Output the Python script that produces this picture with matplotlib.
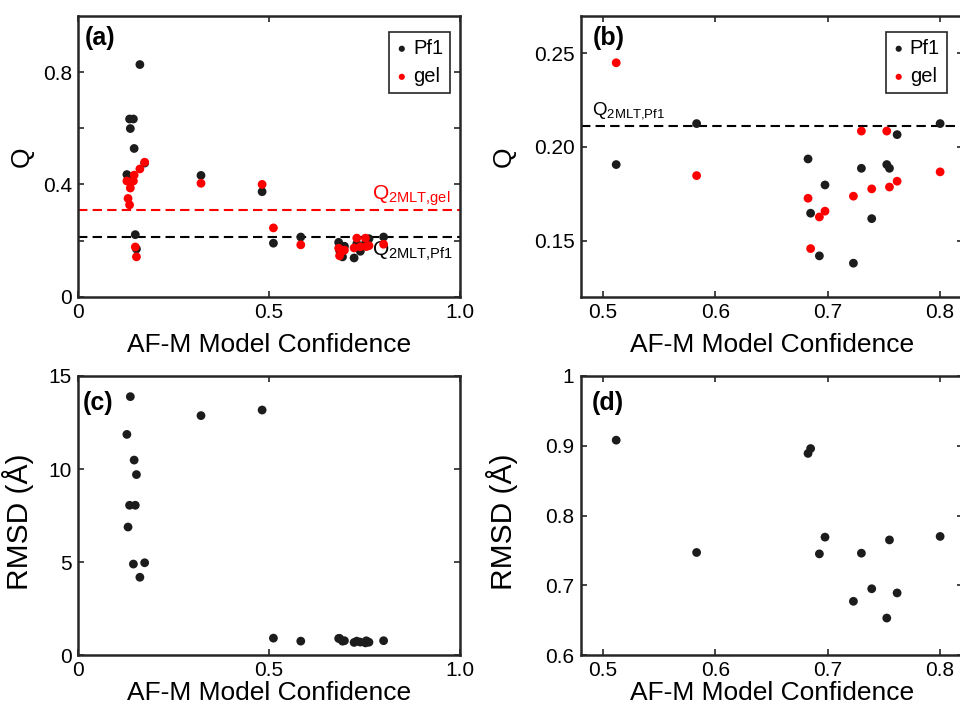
import matplotlib
matplotlib.use("Agg")
import matplotlib.pyplot as plt
import numpy as np

plt.rcParams['font.family'] = ['Liberation Sans', 'DejaVu Sans']
plt.rcParams['mathtext.fontset'] = 'custom'
plt.rcParams['mathtext.rm'] = 'Liberation Sans'

# AF-M model confidence for each predicted model
conf = [0.128, 0.131, 0.135, 0.137, 0.145, 0.147, 0.150, 0.153, 0.162, 0.1745,
        0.322, 0.482,
        0.5116, 0.5832, 0.6824, 0.6847, 0.6925, 0.6975, 0.7228, 0.7299,
        0.7391, 0.7525, 0.7549, 0.7617, 0.800]

# Q against the Pf1 and gel reference structures
q_pf1 = [0.435, 0.415, 0.633, 0.599, 0.633, 0.528, 0.221, 0.170, 0.827, 0.476,
         0.432, 0.374,
         0.1906, 0.2125, 0.1936, 0.1646, 0.1418, 0.1797, 0.1379, 0.1886,
         0.1617, 0.1906, 0.1886, 0.2066, 0.2125]
q_gel = [0.412, 0.350, 0.327, 0.387, 0.412, 0.433, 0.177, 0.142, 0.455, 0.479,
         0.404, 0.400,
         0.245, 0.1847, 0.1726, 0.1457, 0.1626, 0.1657, 0.1737, 0.2085,
         0.1776, 0.2085, 0.1786, 0.1817, 0.1867]

# backbone RMSD (Angstrom)
rmsd = [11.86, 6.88, 8.05, 13.89, 4.89, 10.48, 8.05, 9.70, 4.18, 4.96,
        12.87, 13.17,
        0.908, 0.747, 0.889, 0.896, 0.745, 0.769, 0.677, 0.746,
        0.695, 0.653, 0.765, 0.689, 0.770]

# reference Q of the 2MLT structure
q2mlt_pf1 = 0.211
q2mlt_gel = 0.308

conf = np.array(conf)
q_pf1 = np.array(q_pf1)
q_gel = np.array(q_gel)
rmsd = np.array(rmsd)

BLACK = '#1c1c1c'
RED = '#ff0000'
FRAME = '#262626'
MS = 40
LBL_PF1 = 'Q$_{\\mathregular{2MLT{,}Pf1}}$'
LBL_GEL = 'Q$_{\\mathregular{2MLT{,}gel}}$'

fig = plt.figure(figsize=(9.6, 7.14), dpi=100)
ax_a = fig.add_axes([0.08125, 0.5845, 0.3979, 0.3931])
ax_b = fig.add_axes([0.6049, 0.5845, 0.3978, 0.3931])
ax_c = fig.add_axes([0.08125, 0.0826, 0.3979, 0.3908])
ax_d = fig.add_axes([0.6049, 0.0826, 0.3978, 0.3908])


def style(ax):
    for s in ax.spines.values():
        s.set_color(FRAME)
        s.set_linewidth(1.8)
    ax.tick_params(direction='in', length=4, width=1.2, color=FRAME,
                   top=True, right=True, labelsize=15, pad=4.5)


def dashed(ax, y, color):
    ax.axhline(y, color=color, lw=1.5, ls='--', dashes=(4.5, 2.5), zorder=2)


def add_legend(ax, x_right):
    leg = ax.legend(loc='upper right', bbox_to_anchor=(x_right, 0.943), borderaxespad=0,
                    fontsize=14.5, markerscale=0.7, handlelength=0.6, handletextpad=0.25,
                    borderpad=0.35, labelspacing=0.45, fancybox=False, framealpha=1,
                    edgecolor=FRAME)
    leg.get_frame().set_linewidth(1.2)


# (a) Q vs confidence, all models
ax = ax_a
style(ax)
dashed(ax, q2mlt_gel, RED)
dashed(ax, q2mlt_pf1, 'black')
ax.scatter(conf, q_pf1, s=MS, c=BLACK, edgecolors='none', zorder=3, label='Pf1')
ax.scatter(conf, q_gel, s=MS, c=RED, edgecolors='none', zorder=4, label='gel')
ax.set_xlim(0, 1)
ax.set_ylim(0, 1.0)
ax.set_xticks([0, 0.5, 1.0])
ax.set_xticklabels(['0', '0.5', '1.0'])
ax.set_yticks([0, 0.2, 0.4, 0.6, 0.8])
ax.set_yticklabels(['0', '', '0.4', '', '0.8'])
ax.text(0.975, 0.316, LBL_GEL, color=RED, fontsize=15, ha='right', va='bottom')
ax.text(0.983, 0.203, LBL_PF1, color='black', fontsize=15, ha='right', va='top')
ax.text(0.018, 0.963, '(a)', transform=ax.transAxes, fontsize=18,
        fontweight='bold', ha='left', va='top')
ax.set_xlabel('AF-M Model Confidence', fontsize=19)
ax.set_ylabel('Q', fontsize=19)
ax.xaxis.set_label_coords(0.5, -0.13)
ax.yaxis.set_label_coords(-0.115, 0.5)
add_legend(ax, 0.974)

# (b) Q vs confidence, high-confidence models
ax = ax_b
style(ax)
hi = conf > 0.5
dashed(ax, q2mlt_pf1, 'black')
ax.scatter(conf[hi], q_pf1[hi], s=MS, c=BLACK, edgecolors='none', zorder=3, label='Pf1')
ax.scatter(conf[hi], q_gel[hi], s=MS, c=RED, edgecolors='none', zorder=4, label='gel')
ax.set_xlim(0.48, 0.82)
ax.set_ylim(0.12, 0.27)
ax.set_xticks([0.5, 0.6, 0.7, 0.8])
ax.set_yticks([0.15, 0.20, 0.25])
ax.set_yticklabels(['0.15', '0.20', '0.25'])
ax.text(0.4905, 0.2135, LBL_PF1, color='black', fontsize=13.5, ha='left', va='bottom')
ax.text(0.032, 0.963, '(b)', transform=ax.transAxes, fontsize=18,
        fontweight='bold', ha='left', va='top')
ax.set_xlabel('AF-M Model Confidence', fontsize=19)
ax.set_ylabel('Q', fontsize=19)
ax.xaxis.set_label_coords(0.5, -0.13)
ax.yaxis.set_label_coords(-0.17, 0.5)
add_legend(ax, 0.959)

# (c) RMSD vs confidence, all models
ax = ax_c
style(ax)
ax.scatter(conf, rmsd, s=MS, c=BLACK, edgecolors='none', zorder=3)
ax.set_xlim(0, 1)
ax.set_ylim(0, 15)
ax.set_xticks([0, 0.5, 1.0])
ax.set_xticklabels(['0', '0.5', '1.0'])
ax.set_yticks([0, 5, 10, 15])
ax.text(0.013, 0.945, '(c)', transform=ax.transAxes, fontsize=18,
        fontweight='bold', ha='left', va='top')
ax.set_xlabel('AF-M Model Confidence', fontsize=19)
ax.set_ylabel('RMSD (Å)', fontsize=21.5)
ax.xaxis.set_label_coords(0.5, -0.093)
ax.yaxis.set_label_coords(-0.115, 0.477)

# (d) RMSD vs confidence, high-confidence models
ax = ax_d
style(ax)
ax.scatter(conf[hi], rmsd[hi], s=MS, c=BLACK, edgecolors='none', zorder=3)
ax.set_xlim(0.48, 0.82)
ax.set_ylim(0.6, 1.0)
ax.set_xticks([0.5, 0.6, 0.7, 0.8])
ax.set_yticks([0.6, 0.7, 0.8, 0.9, 1.0])
ax.set_yticklabels(['0.6', '0.7', '0.8', '0.9', '1'])
ax.text(0.029, 0.945, '(d)', transform=ax.transAxes, fontsize=18,
        fontweight='bold', ha='left', va='top')
ax.set_xlabel('AF-M Model Confidence', fontsize=19)
ax.set_ylabel('RMSD (Å)', fontsize=21.5)
ax.xaxis.set_label_coords(0.5, -0.093)
ax.yaxis.set_label_coords(-0.165, 0.477)

fig.savefig('out.png', dpi=100)
